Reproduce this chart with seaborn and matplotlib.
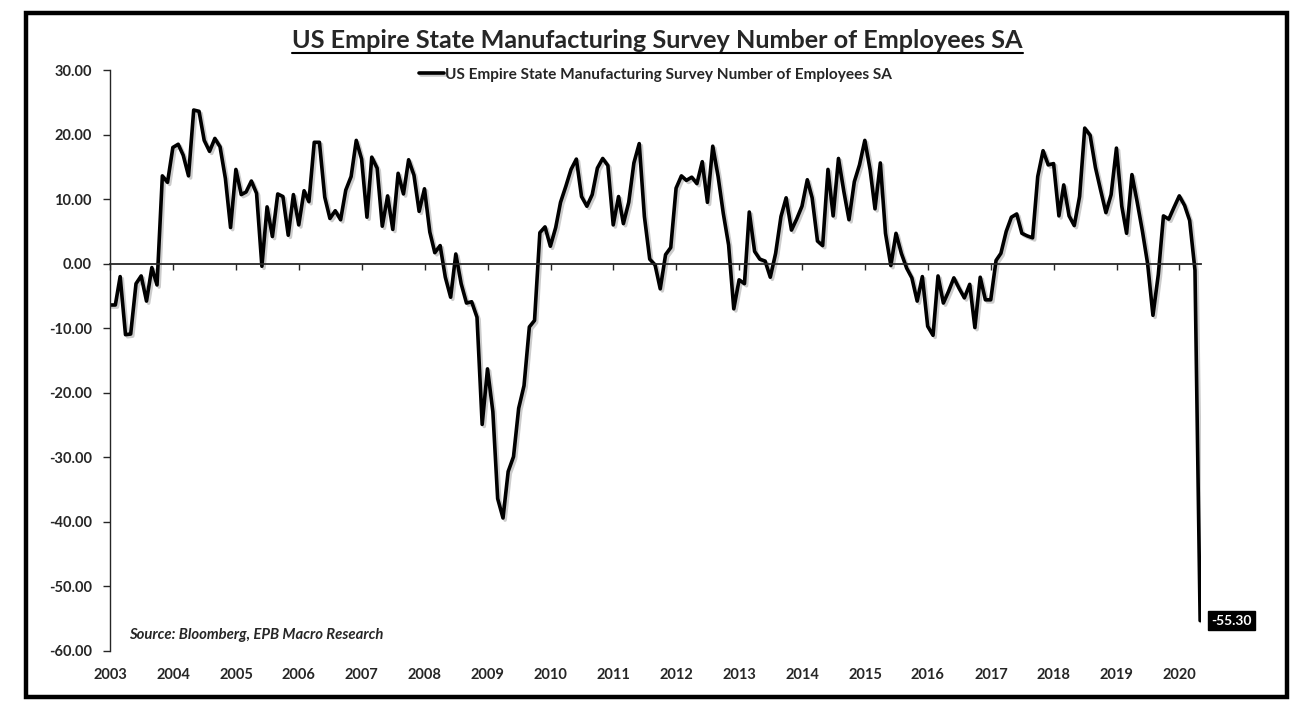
import numpy as np
import pandas as pd
import matplotlib
matplotlib.use('Agg')
import matplotlib.pyplot as plt
import matplotlib.dates as mdates
import matplotlib.patheffects as pe
from matplotlib.patches import Rectangle
from matplotlib.lines import Line2D
import seaborn as sns

# Monthly readings (month-end dates, Dec 2002 .. Apr 2020)
vals_2003 = [-6.4, -6.4, -2.0, -11.0, -10.9, -3.1, -1.9, -5.8, -0.6, -3.3, 13.6, 12.6]
vals_2004 = [18.0, 18.5, 16.8, 13.6, 23.8, 23.6, 19.1, 17.4, 19.4, 18.1, 13.2, 5.6]
vals_2005 = [14.6, 10.7, 11.1, 12.8, 10.9, -0.4, 8.8, 4.2, 10.8, 10.4, 4.4, 10.7]
vals_2006 = [6.0, 11.3, 9.6, 18.8, 18.8, 10.3, 7.0, 8.2, 6.8, 11.4, 13.5, 19.1]
vals_2007 = [16.2, 7.2, 16.5, 14.8, 5.8, 10.5, 5.3, 14.0, 10.8, 16.1, 13.7, 8.1]
vals_2008 = [11.6, 4.9, 1.7, 2.8, -2.1, -5.2, 1.5, -3.1, -6.1, -5.9, -8.3, -24.9]
vals_2009 = [-16.3, -22.9, -36.4, -39.4, -32.2, -29.9, -22.4, -18.9, -9.8, -8.8, 4.8, 5.7]
vals_2010 = [2.7, 5.6, 9.5, 12.0, 14.6, 16.2, 10.4, 8.9, 10.7, 14.8, 16.3, 15.2]
vals_2011 = [6.0, 10.4, 6.2, 9.5, 15.6, 18.6, 7.3, 0.7, -0.2, -3.9, 1.4, 2.5]
vals_2012 = [11.7, 13.6, 12.9, 13.4, 12.4, 15.8, 9.5, 18.2, 13.5, 7.8, 2.9, -7.0]
vals_2013 = [-2.5, -3.1, 8.0, 1.9, 0.7, 0.4, -2.1, 1.6, 7.3, 10.2, 5.2, 6.9]
vals_2014 = [8.9, 13.0, 10.2, 3.5, 2.8, 14.6, 7.4, 16.3, 11.2, 6.8, 12.7, 15.3]
vals_2015 = [19.1, 14.5, 8.5, 15.6, 4.7, -0.3, 4.7, 1.6, -0.7, -2.2, -5.8, -2.0]
vals_2016 = [-9.7, -11.1, -1.9, -6.1, -4.3, -2.2, -3.8, -5.3, -3.2, -9.9, -2.1, -5.6]
vals_2017 = [-5.6, 0.5, 1.6, 5.0, 7.2, 7.7, 4.7, 4.3, 4.0, 13.5, 17.5, 15.3]
vals_2018 = [15.5, 7.4, 12.2, 7.4, 5.9, 10.4, 21.0, 19.9, 14.9, 11.4, 7.9, 10.7]
vals_2019 = [17.9, 8.9, 4.7, 13.8, 9.6, 5.0, 0.0, -8.0, -1.7, 7.4, 6.9, 8.7]
vals_2020 = [10.5, 9.0, 6.7, -1.0, -55.3]

values = (vals_2003 + vals_2004 + vals_2005 + vals_2006 + vals_2007 + vals_2008 +
          vals_2009 + vals_2010 + vals_2011 + vals_2012 + vals_2013 + vals_2014 +
          vals_2015 + vals_2016 + vals_2017 + vals_2018 + vals_2019 + vals_2020)
dates = pd.date_range('2003-01-01', periods=len(values), freq='MS') - pd.Timedelta(days=1)

year_ticks = pd.date_range('2003-01-01', '2020-01-01', freq='YS')
year_labels = [str(d.year) for d in year_ticks]
y_ticks = list(range(-60, 31, 10))

series_name = 'US Empire State Manufacturing Survey Number of Employees SA'
title = 'US Empire State Manufacturing Survey Number of Employees SA'
source = 'Source: Bloomberg, EPB Macro Research'

sns.set_style('white')
plt.rcParams['font.family'] = ['Lato', 'DejaVu Sans']
plt.rcParams['font.weight'] = 'bold'

fig = plt.figure(figsize=(13.03, 7.12), dpi=100)
ax = fig.add_axes([110 / 1303, 1 - 651 / 712, (1201 - 110) / 1303, (651 - 70) / 712])

sns.lineplot(x=dates, y=values, color='black', linewidth=2.6, label=series_name, ax=ax,
             path_effects=[pe.SimpleLineShadow(offset=(1.5, -1.5), alpha=0.2), pe.Normal()])

ax.set_xlim(pd.Timestamp('2002-12-31'), pd.Timestamp('2020-05-05'))
ax.set_ylim(-60, 30)
ax.set_xlabel('')
ax.set_ylabel('')

# y axis
ax.set_yticks(y_ticks)
ax.set_yticklabels([f'{v:.2f}' for v in y_ticks], fontsize=10.5, fontweight='bold')
ax.tick_params(axis='y', direction='out', length=5, width=1, pad=8, left=True)

# x axis line crosses at zero, labels at the bottom
for s in ['top', 'right']:
    ax.spines[s].set_visible(False)
ax.spines['left'].set_linewidth(1)
ax.spines['bottom'].set_position(('data', 0))
ax.spines['bottom'].set_linewidth(1.3)
ax.set_xticks(year_ticks)
ax.tick_params(axis='x', direction='out', length=4, width=1, bottom=True, labelbottom=False)

sec = ax.secondary_xaxis(0)
sec.set_xticks(mdates.date2num(year_ticks), labels=year_labels)
sec.tick_params(length=0, pad=12, labelsize=10.5)
for lab in sec.get_xticklabels():
    lab.set_fontweight('bold')
sec.spines['bottom'].set_visible(False)

leg = ax.legend(loc='center', bbox_to_anchor=(0.5, 0.992), frameon=False, fontsize=11.1,
                handlelength=1.6, handletextpad=0.1, borderaxespad=0)
for t in leg.get_texts():
    t.set_fontweight('bold')

ax.text(0.017, 0.027, source, transform=ax.transAxes, fontsize=10.7, fontweight='bold',
        fontstyle='italic', ha='left', va='center')

ax.annotate(f'{values[-1]:.2f}', xy=(dates[-1], values[-1]), xytext=(11, 0),
            textcoords='offset pixels', ha='left', va='center', color='white',
            fontsize=10, fontweight='bold',
            bbox=dict(boxstyle='square,pad=0.25', fc='black', ec='black'))

ttl = fig.text(0.5045, 1 - 41 / 712, title, ha='center', va='center', fontsize=18.2,
               fontweight='bold')

# outer frame
fig.patches.append(Rectangle((26 / 1303, 1 - 697 / 712), (1287 - 26) / 1303, (697 - 13) / 712,
                             transform=fig.transFigure, fill=False, ec='black', lw=3.2))

# underline the title
fig.canvas.draw()
bb = ttl.get_window_extent().transformed(fig.transFigure.inverted())
fig.lines.append(Line2D([bb.x0, bb.x1], [bb.y0 - 0.001, bb.y0 - 0.001], transform=fig.transFigure,
                        color='black', lw=1.5))

fig.savefig('out.png', dpi=100)
